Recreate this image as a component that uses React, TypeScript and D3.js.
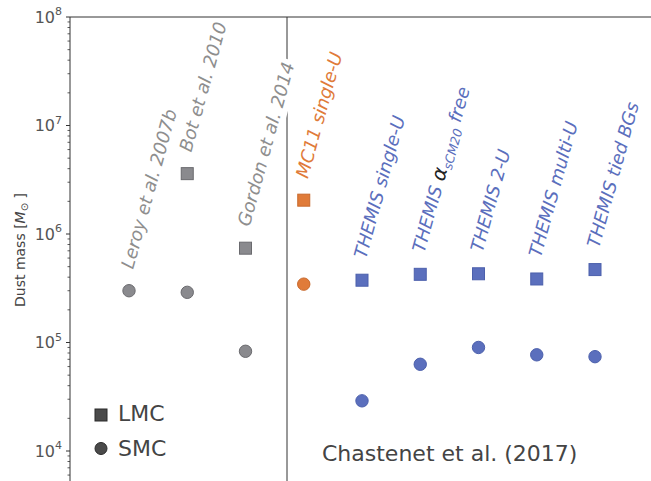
import React, { useRef, useEffect } from 'react';
import * as d3 from 'd3';

// study labels, left to right
const labels: string[] = [
    'Leroy et al. 2007b',
    'Bot et al. 2010',
    'Gordon et al. 2014',
    'MC11 single-U',
    'THEMIS single-U',
    'THEMIS alpha free',
    'THEMIS 2-U',
    'THEMIS multi-U',
    'THEMIS tied BGs',
];
// dust masses in solar masses
const lmcMass: (number | null)[] = [null, 3.6e6, 7.4e5, 2.05e6, 3.75e5, 4.25e5, 4.3e5, 3.85e5, 4.7e5];
const smcMass: number[] = [3.0e5, 2.9e5, 8.3e4, 3.45e5, 2.9e4, 6.3e4, 9.0e4, 7.7e4, 7.4e4];
const groups: string[] = ['lit', 'lit', 'lit', 'mc11', 'themis', 'themis', 'themis', 'themis', 'themis'];
const majorTicks: number[] = [1e4, 1e5, 1e6, 1e7, 1e8];

const fills: Record<string, string> = { lit: '#8a8a8e', mc11: '#e07b39', themis: '#5b6fbd' };
const edges: Record<string, string> = { lit: '#6a6a6e', mc11: '#c8692c', themis: '#4c60ac' };
const textCol: Record<string, string> = { lit: '#8e8e8e', mc11: '#e07b39', themis: '#5b6fbd' };

const W = 651;
const H = 481;
const FONT = 'DejaVu Sans, sans-serif';

export default function App() {
    const ref = useRef<SVGSVGElement>(null);

    useEffect(() => {
        const svg = d3.select(ref.current);
        svg.selectAll('*').remove();

        const left = 70;
        const top = 17;
        const y = d3.scaleLog().domain([1e4, 1e8]).range([451, top]);
        const x = d3.scaleLinear().domain([0, labels.length - 1]).range([129, 595]);

        //spines
        svg.append('line').attr('x1', left).attr('x2', W).attr('y1', top).attr('y2', top)
            .attr('stroke', '#333').attr('stroke-width', 1);
        svg.append('line').attr('x1', left).attr('x2', left).attr('y1', top).attr('y2', H)
            .attr('stroke', '#333').attr('stroke-width', 1);

        //minor + major ticks
        const yLow = y.invert(H);
        const minors: number[] = [];
        for (let e = 3; e < 8; e++) {
            for (let m = 2; m < 10; m++) {
                const v = m * Math.pow(10, e);
                if (v > yLow && v < 1e8) minors.push(v);
            }
        }
        svg.append('g').selectAll('line').data(minors).enter().append('line')
            .attr('x1', left - 2.5).attr('x2', left).attr('y1', d => y(d)).attr('y2', d => y(d))
            .attr('stroke', '#333').attr('stroke-width', 0.8);
        svg.append('g').selectAll('line').data(majorTicks).enter().append('line')
            .attr('x1', left - 4).attr('x2', left).attr('y1', d => y(d)).attr('y2', d => y(d))
            .attr('stroke', '#333').attr('stroke-width', 1);

        const tl = svg.append('g').selectAll('text').data(majorTicks).enter().append('text')
            .attr('x', left - 8).attr('y', d => y(d) + 5.5)
            .attr('text-anchor', 'end').attr('fill', '#555').attr('font-size', 16).attr('font-family', FONT);
        tl.append('tspan').text('10');
        tl.append('tspan').attr('dy', -7.5).attr('font-size', 11).text(d => Math.round(Math.log10(d)).toString());

        //y label
        const yl = svg.append('text')
            .attr('transform', `translate(25, 250) rotate(-90)`)
            .attr('text-anchor', 'middle').attr('fill', '#444').attr('font-size', 14).attr('font-family', FONT);
        yl.append('tspan').text('Dust mass [');
        yl.append('tspan').attr('font-style', 'italic').text('M');
        yl.append('tspan').attr('font-size', 10).attr('dy', 3).text('\u2299');
        yl.append('tspan').attr('dy', -3).text(' ]');

        //divider between literature and Chastenet
        svg.append('line').attr('x1', 287).attr('x2', 287).attr('y1', top).attr('y2', H)
            .attr('stroke', '#333').attr('stroke-width', 1);

        //rotated labels
        labels.forEach((lab, i) => {
            const topVal = Math.max(lmcMass[i] ?? 0, smcMass[i]);
            const ax = x(i) + 4;
            const ay = y(topVal) - 21;
            const tr = `translate(${ax}, ${ay}) rotate(-74.5)`;
            const g = svg.append('g');
            const t = g.append('text').attr('transform', tr)
                .attr('fill', textCol[groups[i]]).attr('font-size', 18)
                .attr('font-style', 'italic').attr('font-family', FONT);
            if (lab === 'THEMIS alpha free') {
                t.append('tspan').text('THEMIS ');
                t.append('tspan').attr('fill', '#222').attr('font-size', 20).text('\u03b1');
                t.append('tspan').attr('font-size', 12.5).attr('dy', 4).text('sCM20');
                t.append('tspan').attr('dy', -4).text(' free');
            } else {
                t.text(lab);
            }
            if (i === 2) {
                //white box like matplotlib's bbox
                const b = (t.node() as SVGTextElement).getBBox();
                g.insert('rect', 'text').attr('transform', tr)
                    .attr('x', b.x - 3).attr('y', b.y - 2)
                    .attr('width', b.width + 6).attr('height', b.height + 4)
                    .attr('fill', 'white');
            }
        });

        //markers
        const sq = 12;
        labels.forEach((_, i) => {
            const g = groups[i];
            const l = lmcMass[i];
            if (l !== null) {
                svg.append('rect').attr('x', x(i) - sq / 2).attr('y', y(l) - sq / 2)
                    .attr('width', sq).attr('height', sq)
                    .attr('fill', fills[g]).attr('stroke', edges[g]).attr('stroke-width', 1);
            }
            svg.append('circle').attr('cx', x(i)).attr('cy', y(smcMass[i])).attr('r', 6.2)
                .attr('fill', fills[g]).attr('stroke', edges[g]).attr('stroke-width', 1);
        });

        //legend
        svg.append('rect').attr('x', 95).attr('y', 409).attr('width', 12).attr('height', 12)
            .attr('fill', '#4a4a4a').attr('stroke', '#2a2a2a');
        svg.append('circle').attr('cx', 101).attr('cy', 448.5).attr('r', 6)
            .attr('fill', '#4a4a4a').attr('stroke', '#2a2a2a');
        svg.append('text').attr('x', 118).attr('y', 421).text('LMC')
            .attr('fill', '#444').attr('font-size', 22).attr('font-family', FONT);
        svg.append('text').attr('x', 118).attr('y', 456).text('SMC')
            .attr('fill', '#444').attr('font-size', 22).attr('font-family', FONT);

        svg.append('text').attr('x', 322).attr('y', 461).text('Chastenet et al. (2017)')
            .attr('fill', '#444').attr('font-size', 22).attr('font-family', FONT);
    }, []);

    return (
        <svg ref={ref} width={W} height={H}
            style={{ position: 'absolute', left: 0, top: 0, background: 'white' }}></svg>
    );
}
